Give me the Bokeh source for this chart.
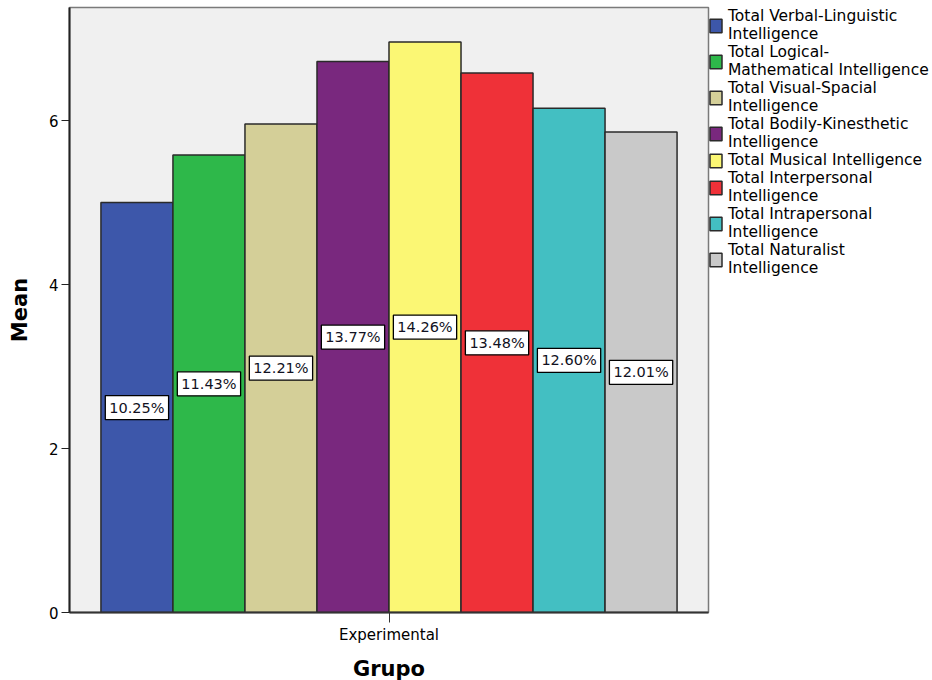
from bokeh.plotting import figure
from bokeh.models import ColumnDataSource, FactorRange, Range1d, FixedTicker, Legend, LegendItem
from bokeh.transform import dodge
from bokeh.core.properties import value
from bokeh.embed import file_html
from bokeh.resources import INLINE

# Data
group = "Experimental"
intelligences = [
    "Total Verbal-Linguistic\nIntelligence",
    "Total Logical-\nMathematical Intelligence",
    "Total Visual-Spacial\nIntelligence",
    "Total Bodily-Kinesthetic\nIntelligence",
    "Total Musical Intelligence",
    "Total Interpersonal\nIntelligence",
    "Total Intrapersonal\nIntelligence",
    "Total Naturalist\nIntelligence",
]
means = [5.00, 5.58, 5.96, 6.72, 6.96, 6.58, 6.15, 5.86]
shares = ["10.25%", "11.43%", "12.21%", "13.77%", "14.26%", "13.48%", "12.60%", "12.01%"]
colors = ["#3d57aa", "#2eb84a", "#d4cf98", "#79287e", "#fbf774", "#ef3138", "#43bfc2", "#c9c9c9"]
y_ticks = [0, 2, 4, 6]

FONT = "DejaVu Sans"
BAR_W = 0.1127

p = figure(
    frame_width=639, frame_height=605,
    x_range=FactorRange(group), y_range=Range1d(0, 7.38),
    output_backend="svg", toolbar_location=None,
    min_border_left=69, min_border_right=0, min_border_top=7, min_border_bottom=68,
    background_fill_color="#f0f0f0", border_fill_color="white",
)
p.outline_line_color = "#7a7a7a"
p.outline_line_width = 1.5
p.xgrid.visible = False
p.ygrid.visible = False

items = []
n = len(means)
for i, (name, m, s, c) in enumerate(zip(intelligences, means, shares, colors)):
    off = (i - (n - 1) / 2) * BAR_W
    src = ColumnDataSource(dict(grp=[group], mean=[m], half=[m / 2], share=[s]))
    r = p.vbar(x=dodge("grp", off, range=p.x_range), top="mean", bottom=0, width=BAR_W,
               source=src, fill_color=c, line_color="#2a2a2a", line_width=1.5)
    p.text(x=dodge("grp", off, range=p.x_range), y="half", text="share", source=src,
           text_font=value(FONT), text_font_size="14.5px", text_color="#111122",
           text_align="center", text_baseline="middle",
           background_fill_color="white", border_line_color="black", border_line_width=1.3,
           padding=4)
    items.append(LegendItem(label=name, renderers=[r]))

legend = Legend(items=items, location="top_left", orientation="vertical")
legend.margin = 0
legend.padding = 0
legend.border_line_color = None
legend.background_fill_alpha = 0
legend.glyph_width = 15
legend.glyph_height = 17
legend.label_standoff = 5
legend.label_height = 16
legend.spacing = 0
legend.label_text_font = FONT
legend.label_text_font_size = "15.5px"
legend.label_text_line_height = 1.0
legend.label_text_color = "black"
p.add_layout(legend, "right")

# Axes
p.yaxis.ticker = FixedTicker(ticks=y_ticks)
p.yaxis.minor_tick_line_color = None
p.yaxis.major_tick_out = 8
p.yaxis.major_tick_in = 0
p.yaxis.major_label_standoff = 3
p.yaxis.major_label_text_font = FONT
p.yaxis.major_label_text_font_size = "15px"
p.yaxis.major_label_text_color = "black"
p.yaxis.axis_label = "Mean"
p.yaxis.axis_label_text_font = FONT
p.yaxis.axis_label_text_font_size = "21px"
p.yaxis.axis_label_text_font_style = "bold"
p.yaxis.axis_label_text_color = "black"
p.yaxis.axis_label_standoff = 14
p.yaxis.axis_line_color = "#222222"
p.yaxis.axis_line_width = 2
p.yaxis.major_tick_line_color = "#222222"

p.xaxis.major_tick_out = 10
p.xaxis.major_tick_in = 0
p.xaxis.major_label_standoff = 3
p.xaxis.major_label_text_font = FONT
p.xaxis.major_label_text_font_size = "15px"
p.xaxis.major_label_text_color = "black"
p.xaxis.axis_label = "Grupo"
p.xaxis.axis_label_text_font = FONT
p.xaxis.axis_label_text_font_size = "21px"
p.xaxis.axis_label_text_font_style = "bold"
p.xaxis.axis_label_text_color = "black"
p.xaxis.axis_label_standoff = 10
p.xaxis.axis_line_color = "#333333"
p.xaxis.axis_line_width = 2
p.xaxis.major_tick_line_color = "#333333"

open("out.html", "w").write(file_html(p, INLINE))
